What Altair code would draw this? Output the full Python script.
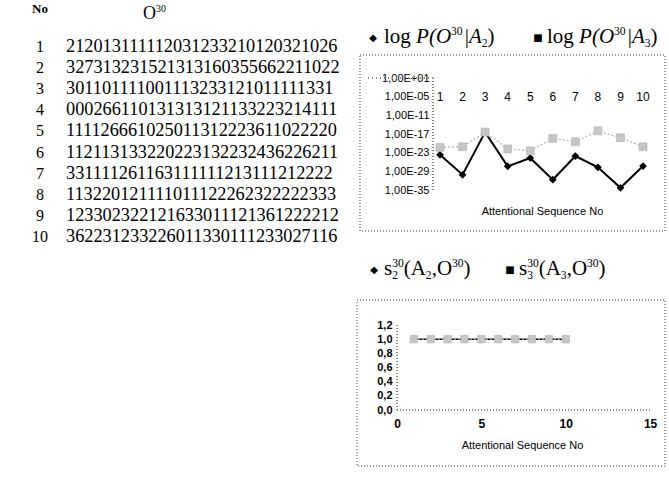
import altair as alt
import pandas as pd

# ---------------- data ----------------
seq_no = [1, 2, 3, 4, 5, 6, 7, 8, 9, 10]
sequences = [
    "212013111112031233210120321026",
    "327313231521313160355662211022",
    "301101111001113233121011111331",
    "000266110131313121133223214111",
    "111126661025011312223611022220",
    "112113133220223132232436226211",
    "331111261163111111213111212222",
    "113220121111011122262322222333",
    "123302322121633011121361222212",
    "362231233226011330111233027116",
]
# log10 P(O^30 | A)
logp_a2 = [-23.7, -30.1, -16.4, -27.4, -24.7, -31.7, -24.1, -27.7, -34.3, -27.3]
logp_a3 = [-21.3, -21.1, -16.4, -21.8, -22.4, -18.4, -19.5, -16.0, -18.2, -21.1]
s2_vals = [1.0, 1.0, 1.0, 1.0, 1.0, 1.0, 1.0, 1.0, 1.0, 1.0]
s3_vals = [1.0, 1.0, 1.0, 1.0, 1.0, 1.0, 1.0, 1.0, 1.0, 1.0]
top_y_ticks = [1, -5, -11, -17, -23, -29, -35]
bot_y_ticks = [0.0, 0.2, 0.4, 0.6, 0.8, 1.0, 1.2]
bot_x_ticks = [0, 5, 10, 15]

# ---------------- layout constants ----------------
SERIF = "Liberation Serif"
SANS = "Liberation Sans"
TW, TH = 340, 483          # table panel
GAP = 15
RW = 312                   # right panels width
TOPH = 232
VGAP = 8
BOTH = TH - TOPH - VGAP
X0 = TW + GAP

# Times-like advance widths (em) for the rich headings
W_UP = {"l": .278, "o": .5, "g": .5, " ": .25, "s": .389, "(": .333, ")": .333,
        "A": .722, "O": .722, ",": .25, "|": .2, "P": .556}
W_IT = {"P": .611, "(": .333, "O": .722, "A": .611, "|": .275, ")": .333}


def text_width(t, style, size):
    tab = W_IT if style == "italic" else W_UP
    return sum(tab.get(c, 0.5) for c in t) * size


def rich(parts, x_start, base_y, base_size, xoff=0, yoff=0):
    """parts: (text, style, scale, dy, advance)"""
    layers = []
    x = x_start
    for text, style, scale, dy, adv in parts:
        size = base_size * scale
        if text.strip():
            layers.append(
                alt.Chart(pd.DataFrame({"t": [text]})).mark_text(
                    font=SERIF, fontSize=size, fontStyle=style, align="left",
                    baseline="alphabetic", color="black"
                ).encode(x=alt.value(x - xoff), y=alt.value(base_y + dy - yoff), text="t:N")
            )
        if adv:
            x += text_width(text, style, size)
    return layers


def glyph(ch, px, py, size, xoff=0, yoff=0):
    return alt.Chart(pd.DataFrame({"t": [ch]})).mark_text(
        font="DejaVu Sans", fontSize=size, align="center", baseline="middle",
        color="black").encode(x=alt.value(px - xoff), y=alt.value(py - yoff), text="t:N")


# ---------------- table ----------------
tdf = pd.DataFrame({"no": seq_no, "seq": sequences})
row_first, row_step = 47.0, 21.1
row_scale = alt.Scale(domain=[1 + (TH - row_first) / row_step, 1 - row_first / row_step],
                      nice=False, zero=False)
tbase = alt.Chart(tdf).encode(y=alt.Y("no:Q", scale=row_scale, axis=None))
nums = tbase.mark_text(font=SERIF, fontSize=16, align="center", baseline="middle",
                       color="black").encode(x=alt.value(40), text="no:N")
seqs = tbase.mark_text(font=SERIF, fontSize=18.3, align="left", baseline="middle",
                       color="black").encode(x=alt.value(66), text="seq:N")
hdr_no = alt.Chart(pd.DataFrame({"t": ["No"]})).mark_text(
    font=SERIF, fontSize=13, fontWeight="bold", align="center", baseline="middle",
    color="black").encode(x=alt.value(40), y=alt.value(9), text="t:N")
hdr_o = rich([("O", "normal", 1, 0, True), ("30", "normal", 0.55, -7, True)],
             143, 19, 18)
table = alt.layer(hdr_no, *hdr_o, nums, seqs).properties(
    width=TW, height=TH, view=alt.ViewBackground(fill="white", stroke=None))

# ---------------- top chart ----------------
x1_px, dx = 440.0, 22.56                 # page px of seq 1 and px per seq
xt_scale = alt.Scale(domain=[1 - (x1_px - X0) / dx, 1 + (X0 + RW - x1_px) / dx],
                     nice=False, zero=False)
ytop_px, kdec = 78.0, 112.0 / 36.0       # page px of 1E+01, px per decade
yt_scale = alt.Scale(domain=[1 - (TOPH - ytop_px) / kdec, 1 + ytop_px / kdec],
                     nice=False, zero=False)
axis_x_px = 433.0
yt_axis = alt.Axis(values=top_y_ticks, orient="left", offset=-(axis_x_px - X0),
                   domain=False, ticks=False, grid=False, labelPadding=4,
                   labelFont=SANS, labelFontSize=11, labelColor="black", title=None,
                   labelExpr="'1,00E' + (datum.value >= 0 ? '+' : '-') + "
                             "(abs(datum.value) < 10 ? '0' : '') + abs(datum.value)")
xt_axis = alt.Axis(orient="bottom", labels=False, ticks=False, domain=False, grid=False,
                   title="Attentional Sequence No", titleFont=SANS, titleFontSize=11,
                   titleFontWeight="normal", titleColor="black",
                   titleBaseline="middle", titleAlign="center",
                   titleX=542 - X0, titleY=211 - TOPH)


def XT(field=None, datum=None):
    if datum is not None:
        return alt.XDatum(datum=datum, scale=xt_scale, axis=xt_axis)
    return alt.X(field, scale=xt_scale, axis=xt_axis)


def YT(field=None, datum=None):
    if datum is not None:
        return alt.YDatum(datum=datum, scale=yt_scale, axis=yt_axis)
    return alt.Y(field, scale=yt_scale, axis=yt_axis)


top_df = pd.DataFrame({"seq": seq_no, "a2": logp_a2, "a3": logp_a3})
tc = alt.Chart(top_df)
a2_line = tc.mark_line(color="black", strokeWidth=2).encode(x=XT("seq:Q"), y=YT("a2:Q"))
a2_pts = tc.mark_point(shape="diamond", filled=True, size=60, color="black", opacity=1).encode(
    x=XT("seq:Q"), y=YT("a2:Q"))
a3_line = tc.mark_line(color="#b8b8b8", strokeWidth=1.3, strokeDash=[2, 2]).encode(
    x=XT("seq:Q"), y=YT("a3:Q"))
a3_pts = tc.mark_point(shape="square", filled=True, size=62, color="#c6c6c6", opacity=1,
                       stroke="#b0b0b0", strokeWidth=0.6).encode(x=XT("seq:Q"), y=YT("a3:Q"))
xlabels = tc.mark_text(font=SANS, fontSize=12, color="black", baseline="middle").encode(
    x=XT("seq:Q"), y=YT(datum=-5), text="seq:N")
yaxis_line = tc.mark_rule(color="#888", strokeDash=[1, 2]).encode(
    x=alt.value(axis_x_px - X0), y=YT(datum=1), y2=alt.Y2Datum(datum=-35))
top_line = tc.mark_rule(color="#888", strokeDash=[1, 3]).encode(
    x=alt.value(axis_x_px - X0), x2=alt.X2Datum(datum=10.6), y=YT(datum=1))
top_frame = tc.mark_rect(fill=None, stroke="#999", strokeDash=[1, 2], strokeWidth=1).encode(
    x=alt.value(5), x2=alt.value(310), y=alt.value(55), y2=alt.value(TOPH - 1))

HB = 43  # baseline of the top heading
top_head = [glyph("◆", 373, 38, 10, X0)]
top_head += rich([("log", "normal", 1, 0, True), (" ", "normal", 1, 0, True),
                  ("P(O", "italic", 1, 0, True), ("30", "normal", 0.55, -8, True),
                  (" ", "normal", 0.4, 0, True), ("|", "normal", 1, 0, True),
                  ("A", "italic", 1, 0, True), ("2", "normal", 0.55, 4, True),
                  (")", "normal", 1, 0, True)], 384, HB, 21, X0)
top_head += [glyph("■", 538, 38, 10, X0)]
top_head += rich([("log", "normal", 1, 0, True), (" ", "normal", 1, 0, True),
                  ("P(O", "italic", 1, 0, True), ("30", "normal", 0.55, -8, True),
                  (" ", "normal", 0.4, 0, True), ("|", "normal", 1, 0, True),
                  ("A", "italic", 1, 0, True), ("3", "normal", 0.55, 4, True),
                  (")", "normal", 1, 0, True)], 547, HB, 21, X0)
top = alt.layer(top_frame, yaxis_line, top_line, a2_line, a2_pts, a3_line, a3_pts,
                xlabels, *top_head).properties(width=RW, height=TOPH)

# ---------------- bottom chart ----------------
Y0 = TOPH + VGAP
bx0_px, bdx = 397.0, 16.87
xb_scale = alt.Scale(domain=[-(bx0_px - X0) / bdx, (X0 + RW - bx0_px) / bdx],
                     nice=False, zero=False)
by0_px, bky = 410.0, 70.83
yb_scale = alt.Scale(domain=[-(Y0 + BOTH - by0_px) / bky, (by0_px - Y0) / bky],
                     nice=False, zero=False)
yb_axis = alt.Axis(values=bot_y_ticks, orient="left", offset=-(bx0_px - X0),
                   domain=False, ticks=False, grid=False, labelPadding=5,
                   labelFont=SANS, labelFontSize=11, labelFontWeight="bold",
                   labelColor="black", title=None,
                   labelExpr="replace(format(datum.value, '.1f'), '.', ',')")
xb_axis = alt.Axis(values=bot_x_ticks, orient="bottom", offset=-(Y0 + BOTH - by0_px),
                   domain=False, ticks=False, grid=False, labelPadding=8,
                   labelFont=SANS, labelFontSize=12, labelFontWeight="bold",
                   labelColor="black",
                   title="Attentional Sequence No", titleFont=SANS, titleFontSize=11,
                   titleFontWeight="normal", titleColor="black",
                   titleBaseline="middle", titleAlign="center",
                   titleX=522 - X0, titleY=445 - by0_px)


def XB(field=None, datum=None):
    if datum is not None:
        return alt.XDatum(datum=datum, scale=xb_scale, axis=xb_axis)
    return alt.X(field, scale=xb_scale, axis=xb_axis)


def YB(field=None, datum=None):
    if datum is not None:
        return alt.YDatum(datum=datum, scale=yb_scale, axis=yb_axis)
    return alt.Y(field, scale=yb_scale, axis=yb_axis)


bot_df = pd.DataFrame({"seq": seq_no, "s2": s2_vals, "s3": s3_vals})
bc = alt.Chart(bot_df)
s2_line = bc.mark_line(color="black", strokeWidth=1.5).encode(x=XB("seq:Q"), y=YB("s2:Q"))
s2_pts = bc.mark_point(shape="diamond", filled=True, size=50, color="black", opacity=1).encode(
    x=XB("seq:Q"), y=YB("s2:Q"))
s3_line = bc.mark_line(color="#b8b8b8", strokeWidth=1.2, strokeDash=[2, 2]).encode(
    x=XB("seq:Q"), y=YB("s3:Q"))
s3_pts = bc.mark_point(shape="square", filled=True, size=55, color="#c6c6c6", opacity=1,
                       stroke="#b0b0b0", strokeWidth=0.6).encode(x=XB("seq:Q"), y=YB("s3:Q"))
b_yline = bc.mark_rule(color="#888", strokeDash=[1, 2]).encode(
    x=XB(datum=0), y=YB(datum=0), y2=alt.Y2Datum(datum=1.2))
b_xline = bc.mark_rule(color="#888", strokeDash=[1, 2]).encode(
    x=XB(datum=0), x2=alt.X2Datum(datum=15), y=YB(datum=0))
bot_frame = bc.mark_rect(fill=None, stroke="#999", strokeDash=[1, 2], strokeWidth=1).encode(
    x=alt.value(2), x2=alt.value(310), y=alt.value(300 - Y0), y2=alt.value(466 - Y0))

BB = 275  # baseline of the bottom heading


def s_parts(k):
    return [("s", "normal", 1, 0, True), (k, "normal", 0.55, 4, False),
            ("30", "normal", 0.55, -8, True), ("(A", "normal", 1, 0, True),
            (k, "normal", 0.55, 4, True), (",O", "normal", 1, 0, True),
            ("30", "normal", 0.55, -8, True), (")", "normal", 1, 0, True)]


bot_head = [glyph("◆", 374, 270, 10, X0, Y0)]
bot_head += rich(s_parts("2"), 384, BB, 21, X0, Y0)
bot_head += [glyph("■", 510, 270, 10, X0, Y0)]
bot_head += rich(s_parts("3"), 519, BB, 21, X0, Y0)
bottom = alt.layer(bot_frame, b_yline, b_xline, s2_line, s2_pts, s3_line, s3_pts,
                   *bot_head).properties(width=RW, height=BOTH)

right = alt.vconcat(top, bottom, spacing=VGAP, bounds="flush")
chart = alt.hconcat(table, right, spacing=GAP, bounds="flush").properties(
    padding=0, background="white").configure_view(stroke=None)

chart.save("out.html", embed_options={"renderer": "svg", "actions": False})
